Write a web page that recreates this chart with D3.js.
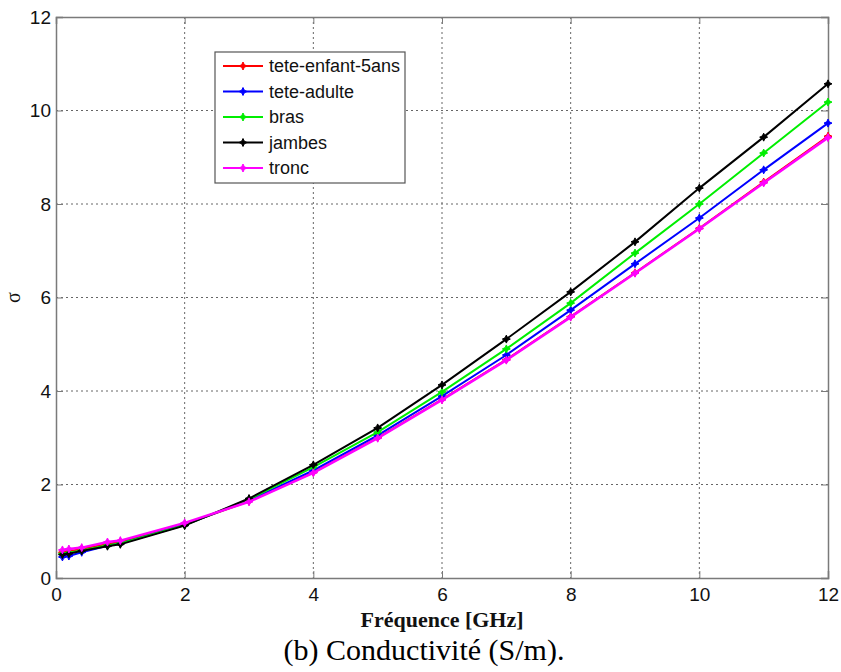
<!DOCTYPE html>
<html><head><meta charset="utf-8">
<script src="https://cdn.jsdelivr.net/npm/d3@7"></script>
<style>body{margin:0;background:#fff}svg{display:block}</style>
</head><body>
<script>
const freq = [0.1, 0.2, 0.4, 0.8, 1, 2, 3, 4, 5, 6, 7, 8, 9, 10, 11, 12];
const teteEnfant = [0.55, 0.57, 0.62, 0.73, 0.77, 1.15, 1.64, 2.26, 3.00, 3.82, 4.67, 5.59, 6.53, 7.48, 8.47, 9.45];
const teteAdulte = [0.45, 0.47, 0.55, 0.69, 0.74, 1.14, 1.66, 2.30, 3.05, 3.89, 4.77, 5.73, 6.72, 7.70, 8.73, 9.73];
const bras       = [0.52, 0.54, 0.59, 0.70, 0.74, 1.13, 1.68, 2.37, 3.12, 3.98, 4.90, 5.88, 6.95, 8.00, 9.09, 10.18];
const jambes     = [0.50, 0.52, 0.58, 0.68, 0.72, 1.12, 1.70, 2.42, 3.21, 4.13, 5.11, 6.12, 7.19, 8.34, 9.43, 10.57];
const tronc      = [0.60, 0.62, 0.65, 0.77, 0.80, 1.18, 1.63, 2.25, 2.99, 3.81, 4.66, 5.58, 6.52, 7.47, 8.45, 9.42];
const seriesNames = ["tete-enfant-5ans", "tete-adulte", "bras", "jambes", "tronc"];
const seriesColors = ["#ff0000", "#0000ff", "#00ee00", "#000000", "#ff00ff"];
const xTicks = [0, 2, 4, 6, 8, 10, 12];
const yTicks = [0, 2, 4, 6, 8, 10, 12];
const seriesValues = [teteEnfant, teteAdulte, bras, jambes, tronc];

const W = 841, H = 672;
const L = 56, R = 828, T = 17, B = 578;
const svg = d3.select("body").append("svg").attr("width", W).attr("height", H);
const x = d3.scaleLinear().domain([0, 12]).range([L, R]);
const y = d3.scaleLinear().domain([0, 12]).range([B, T]);

// grid
const g = svg.append("g");
g.selectAll(".vx").data(xTicks.slice(1, -1)).join("line")
  .attr("x1", d => x(d)).attr("x2", d => x(d)).attr("y1", T).attr("y2", B)
  .attr("stroke", "#666").attr("stroke-width", 1).attr("stroke-dasharray", "2,3");
g.selectAll(".hy").data(yTicks.slice(1, -1)).join("line")
  .attr("y1", d => y(d)).attr("y2", d => y(d)).attr("x1", L).attr("x2", R)
  .attr("stroke", "#666").attr("stroke-width", 1).attr("stroke-dasharray", "2,3");

// axes (ticks inside)
const ax = svg.append("g").attr("transform", `translate(0,${B})`)
  .call(d3.axisBottom(x).tickValues(xTicks).tickSize(-7).tickPadding(10).tickFormat(d3.format("d")));
const ay = svg.append("g").attr("transform", `translate(${L},0)`)
  .call(d3.axisLeft(y).tickValues(yTicks).tickSize(-7).tickPadding(5).tickFormat(d3.format("d")));
const axT = svg.append("g").attr("transform", `translate(0,${T})`)
  .call(d3.axisTop(x).tickValues(xTicks).tickSize(-7).tickFormat(""));
const ayR = svg.append("g").attr("transform", `translate(${R},0)`)
  .call(d3.axisRight(y).tickValues(yTicks).tickSize(-7).tickFormat(""));
[ax, ay, axT, ayR].forEach(a => {
  a.select(".domain").attr("stroke", "#7a7a7a").attr("stroke-width", 1.5);
  a.selectAll(".tick line").attr("stroke", "#7a7a7a");
  a.selectAll("text").attr("font-family", "Liberation Sans, Arial, sans-serif")
    .attr("font-size", 19).attr("fill", "#111");
});

// series
const line = d3.line().x(d => x(d[0])).y(d => y(d[1]));
function star(sel, cx, cy, color) {
  const s = 4, k = 1.3;
  sel.append("path")
    .attr("d", `M${cx},${cy - s}L${cx + k},${cy - k}L${cx + s},${cy}L${cx + k},${cy + k}L${cx},${cy + s}L${cx - k},${cy + k}L${cx - s},${cy}L${cx - k},${cy - k}Z`)
    .attr("fill", color).attr("stroke", color).attr("stroke-width", 1);
}
seriesValues.forEach((vals, i) => {
  const pts = freq.map((f, k) => [f, vals[k]]);
  const gs = svg.append("g");
  gs.append("path").datum(pts).attr("d", line).attr("fill", "none")
    .attr("stroke", seriesColors[i]).attr("stroke-width", i === 4 ? 2.5 : 2);
  pts.forEach(p => star(gs, x(p[0]), y(p[1]), seriesColors[i]));
});

// legend
const lg = svg.append("g");
lg.append("rect").attr("x", 215).attr("y", 52).attr("width", 190).attr("height", 131)
  .attr("fill", "#fff").attr("stroke", "#555").attr("stroke-width", 1.2);
seriesNames.forEach((n, i) => {
  const yy = 66 + i * 25.5;
  lg.append("line").attr("x1", 223).attr("x2", 263).attr("y1", yy).attr("y2", yy)
    .attr("stroke", seriesColors[i]).attr("stroke-width", 2);
  star(lg, 243, yy, seriesColors[i]);
  lg.append("text").attr("x", 269).attr("y", yy + 6).text(n)
    .attr("font-family", "Liberation Sans, Arial, sans-serif").attr("font-size", 18).attr("fill", "#111");
});

// labels
svg.append("text").attr("x", 442).attr("y", 627).attr("text-anchor", "middle")
  .attr("font-family", "Liberation Serif, Times New Roman, serif").attr("font-weight", "bold")
  .attr("font-size", 22).attr("fill", "#111").text("Fréquence [GHz]");
svg.append("text").attr("transform", `translate(20,${(T + B) / 2}) rotate(-90)`).attr("text-anchor", "middle")
  .attr("font-family", "Liberation Serif, Times New Roman, serif")
  .attr("font-size", 20).attr("fill", "#111").text("σ");
svg.append("text").attr("x", 424).attr("y", 660).attr("text-anchor", "middle")
  .attr("font-family", "Liberation Serif, Times New Roman, serif")
  .attr("font-size", 30).attr("fill", "#000").text("(b) Conductivité (S/m).");
</script>
</body></html>
